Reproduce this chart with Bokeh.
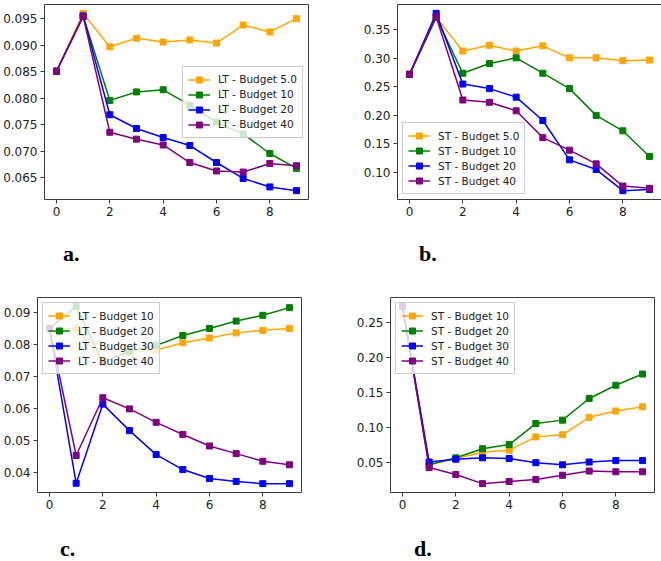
from bokeh.plotting import figure
from bokeh.layouts import column, row
from bokeh.models import (Range1d, FixedTicker, PrintfTickFormatter, Legend,
                          LegendItem, Div)
from bokeh.embed import file_html
from bokeh.resources import INLINE

# ---- data -------------------------------------------------------------
steps = list(range(10))
colors = ["orange", "green", "blue", "purple"]

# a. long-term loss, budgets 5.0 / 10 / 20 / 40
a_labels = ["LT - Budget 5.0", "LT - Budget 10", "LT - Budget 20", "LT - Budget 40"]
a_lt5 = [0.0851, 0.0960, 0.0897, 0.0913, 0.0906, 0.0910, 0.0904, 0.0938, 0.0925, 0.0950]
a_lt10 = [0.0851, 0.0955, 0.0796, 0.0812, 0.0816, 0.0787, 0.0755, 0.0733, 0.0696, 0.0668]
a_lt20 = [0.0851, 0.0955, 0.0769, 0.0743, 0.0726, 0.0711, 0.0679, 0.0649, 0.0633, 0.0626]
a_lt40 = [0.0851, 0.0954, 0.0736, 0.0723, 0.0712, 0.0679, 0.0663, 0.0661, 0.0677, 0.0673]
a_yticks = [0.065, 0.070, 0.075, 0.080, 0.085, 0.090, 0.095]

# b. short-term loss, budgets 5.0 / 10 / 20 / 40
b_labels = ["ST - Budget 5.0", "ST - Budget 10", "ST - Budget 20", "ST - Budget 40"]
b_st5 = [0.272, 0.372, 0.313, 0.323, 0.313, 0.322, 0.301, 0.301, 0.296, 0.297]
b_st10 = [0.272, 0.372, 0.274, 0.291, 0.301, 0.274, 0.247, 0.200, 0.173, 0.128]
b_st20 = [0.272, 0.379, 0.255, 0.247, 0.232, 0.191, 0.122, 0.105, 0.068, 0.070]
b_st40 = [0.272, 0.373, 0.227, 0.223, 0.208, 0.161, 0.139, 0.115, 0.076, 0.072]
b_yticks = [0.10, 0.15, 0.20, 0.25, 0.30, 0.35]

# c. long-term loss, budgets 10 / 20 / 30 / 40
c_labels = ["LT - Budget 10", "LT - Budget 20", "LT - Budget 30", "LT - Budget 40"]
c_lt10 = [0.0850, 0.0850, 0.0746, 0.0775, 0.0782, 0.0805, 0.0820, 0.0836, 0.0844, 0.0850]
c_lt20 = [0.0850, 0.0919, 0.0744, 0.0779, 0.0797, 0.0828, 0.0850, 0.0873, 0.0891, 0.0915]
c_lt30 = [0.0850, 0.0365, 0.0613, 0.0530, 0.0455, 0.0408, 0.0380, 0.0371, 0.0364, 0.0364]
c_lt40 = [0.0850, 0.0452, 0.0633, 0.0598, 0.0556, 0.0518, 0.0482, 0.0458, 0.0434, 0.0423]
c_yticks = [0.04, 0.05, 0.06, 0.07, 0.08, 0.09]

# d. short-term loss, budgets 10 / 20 / 30 / 40
d_labels = ["ST - Budget 10", "ST - Budget 20", "ST - Budget 30", "ST - Budget 40"]
d_st10 = [0.273, 0.046, 0.055, 0.064, 0.067, 0.086, 0.089, 0.114, 0.123, 0.129]
d_st20 = [0.273, 0.046, 0.056, 0.069, 0.075, 0.105, 0.110, 0.141, 0.160, 0.176]
d_st30 = [0.273, 0.050, 0.054, 0.056, 0.055, 0.049, 0.046, 0.050, 0.052, 0.052]
d_st40 = [0.273, 0.042, 0.032, 0.019, 0.022, 0.025, 0.031, 0.037, 0.036, 0.036]
d_yticks = [0.05, 0.10, 0.15, 0.20, 0.25]

xticks = [0, 2, 4, 6, 8]

FONT = "DejaVu Sans"
TICK_SIZE = "12px"


def panel(series, labels, yticks, fmt, legend_loc, borders):
    left, right, top, bottom = borders
    p = figure(frame_width=264, frame_height=195,
               min_border_left=left, min_border_right=right,
               min_border_top=top, min_border_bottom=bottom,
               output_backend="svg", toolbar_location=None,
               background_fill_color="white", border_fill_color="white")
    lo = min(min(s) for s in series)
    hi = max(max(s) for s in series)
    pad = 0.05 * (hi - lo)
    p.y_range = Range1d(lo - pad, hi + pad)
    p.x_range = Range1d(steps[0] - 0.05 * (steps[-1] - steps[0]),
                        steps[-1] + 0.05 * (steps[-1] - steps[0]))
    p.xgrid.visible = False
    p.ygrid.visible = False
    p.outline_line_color = "#3a3a3a"
    p.outline_line_width = 1

    p.xaxis.ticker = FixedTicker(ticks=xticks)
    p.yaxis.ticker = FixedTicker(ticks=yticks)
    p.yaxis.formatter = PrintfTickFormatter(format=fmt)
    for ax in (p.xaxis, p.yaxis):
        ax.axis_line_color = None
        ax.major_tick_in = 0
        ax.major_tick_out = 4
        ax.minor_tick_line_color = None
        ax.major_tick_line_color = "#3a3a3a"
        ax.major_label_text_font = FONT
        ax.major_label_text_font_size = TICK_SIZE
        ax.major_label_text_color = "#222222"
        ax.major_label_standoff = 3

    items = []
    for ys, c, lab in zip(series, colors, labels):
        ln = p.line(steps, ys, line_color=c, line_width=1.5)
        mk = p.scatter(steps, ys, marker="square", size=6,
                       fill_color=c, line_color=c)
        items.append(LegendItem(label=lab, renderers=[ln, mk]))

    leg = Legend(items=items, location=legend_loc,
                 label_text_font=FONT, label_text_font_size="10.5px",
                 label_text_color="#222222",
                 glyph_width=22, glyph_height=15, label_height=15,
                 label_standoff=8, spacing=0, padding=5, margin=5,
                 border_line_color="#cccccc", border_line_alpha=1.0,
                 background_fill_color="white", background_fill_alpha=0.8)
    p.add_layout(leg)
    return p


def tag(text, width, height, left, top):
    # bold serif panel tag ("a.", "b.", ...) under each chart
    html = ('<div style="padding:%dpx 0 0 %dpx; font-family:\'Liberation Serif\';'
            ' font-weight:bold; font-size:22px; line-height:22px; color:black;">'
            '%s</div>' % (top, left, text))
    return Div(text=html, width=width, height=height, margin=0)


pa = panel([a_lt5, a_lt10, a_lt20, a_lt40], a_labels, a_yticks, "%.3f",
           "right", (41, 25, 4, 30))
pb = panel([b_st5, b_st10, b_st20, b_st40], b_labels, b_yticks, "%.2f",
           "bottom_left", (64, 3, 4, 30))
pc = panel([c_lt10, c_lt20, c_lt30, c_lt40], c_labels, c_yticks, "%.2f",
           "top_left", (36, 30, 17, 30))
pd = panel([d_st10, d_st20, d_st30, d_st40], d_labels, d_yticks, "%.2f",
           "top_left", (59, 8, 17, 30))

ta = tag("a.", 330, 51, 63, 14)
tb = tag("b.", 331, 51, 86, 14)
tc = tag("c.", 330, 39, 60, 16)
td = tag("d.", 331, 39, 83, 16)

layout = column(row(column(pa, ta), column(pb, tb)),
                row(column(pc, tc), column(pd, td)))

open("out.html", "w").write(file_html(layout, INLINE))
